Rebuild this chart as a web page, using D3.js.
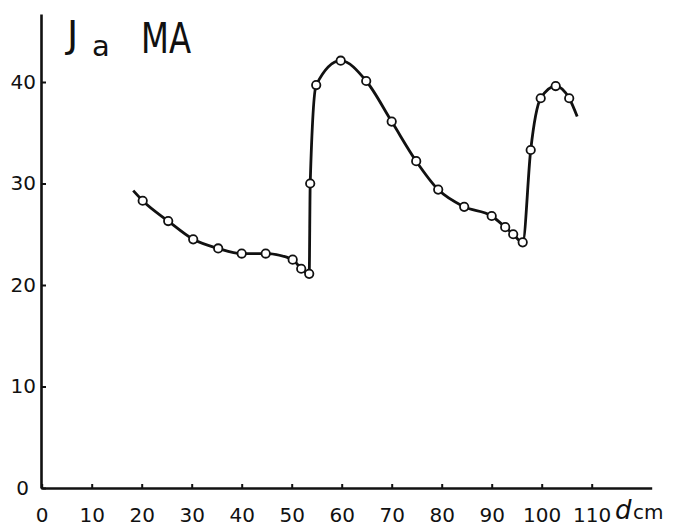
<!DOCTYPE html>
<html>
<head>
<meta charset="utf-8">
<script src="https://cdn.jsdelivr.net/npm/d3@7/dist/d3.min.js"></script>
<style>
  html, body { margin: 0; padding: 0; background: #fff; }
  svg { display: block; }
  text { font-family: "DejaVu Sans", sans-serif; fill: #111; }
</style>
</head>
<body>
<svg id="chart" width="676" height="527"></svg>
<script>
// Measured points (d in cm, Ja in mA)
const distance = [20.2, 25.3, 30.3, 35.3, 40.0, 44.8, 50.2, 51.9, 53.5, 53.7, 54.9, 59.8, 64.9, 70.0, 74.9, 79.3, 84.5, 90.0, 92.7, 94.3, 96.2, 97.8, 99.8, 102.8, 105.5];
const current  = [28.3, 26.3, 24.5, 23.6, 23.1, 23.1, 22.5, 21.6, 21.1, 30.0, 39.7, 42.1, 40.1, 36.1, 32.2, 29.4, 27.7, 26.8, 25.7, 25.0, 24.2, 33.3, 38.4, 39.6, 38.4];
// Curve ends without markers
const curveStart = [18.3, 29.3];
const curveEnd   = [107.1, 36.6];
const xTicks = [0, 10, 20, 30, 40, 50, 60, 70, 80, 90, 100, 110];
const yTicks = [0, 10, 20, 30, 40];

const svg = d3.select("#chart");
const x = d3.scaleLinear().domain([0, 122]).range([41.7, 651.7]);
const y = d3.scaleLinear().domain([0, 46.7]).range([488, 14]);

// X axis
const gx = svg.append("g").attr("transform", `translate(0,${y(0)})`)
  .call(d3.axisBottom(x).tickValues(xTicks).tickSizeInner(-4).tickSizeOuter(0).tickPadding(20).tickFormat(d3.format("d")));
gx.select(".domain").attr("stroke", "#111").attr("stroke-width", 2.6);
gx.selectAll(".tick line").attr("stroke", "#111").attr("stroke-width", 2);
gx.selectAll(".tick text").attr("font-size", 20).attr("font-family", "DejaVu Sans Condensed, DejaVu Sans").attr("fill", "#111");

// Y axis
const gy = svg.append("g").attr("transform", `translate(41,0)`)
  .call(d3.axisLeft(y).tickValues(yTicks).tickSizeInner(-5).tickSizeOuter(0).tickPadding(5).tickFormat(d3.format("d")));
gy.select(".domain").attr("stroke", "#111").attr("stroke-width", 2.6);
gy.selectAll(".tick line").attr("stroke", "#111").attr("stroke-width", 2);
gy.selectAll(".tick text").attr("font-size", 20).attr("font-family", "DejaVu Sans Condensed, DejaVu Sans").attr("fill", "#111")
  .attr("dx", d => d === 0 ? -7 : 0);

// Curve
const pts = [curveStart].concat(distance.map((d, i) => [d, current[i]])).concat([curveEnd]);
const line = d3.line().x(d => x(d[0])).y(d => y(d[1])).curve(d3.curveMonotoneX);
svg.append("path").attr("d", line(pts)).attr("fill", "none").attr("stroke", "#111").attr("stroke-width", 2.8);

// Markers
svg.append("g").selectAll("circle").data(distance).join("circle")
  .attr("cx", d => x(d)).attr("cy", (d, i) => y(current[i])).attr("r", 4.2)
  .attr("fill", "#fff").attr("stroke", "#111").attr("stroke-width", 1.8);

// Title
svg.append("text").attr("x", 67).attr("y", 47).attr("font-size", 38)
  .attr("font-family", "DejaVu Sans Mono, monospace").text("J");
svg.append("text").attr("x", 92).attr("y", 56).attr("font-size", 29).text("a");
svg.append("text").attr("x", 141).attr("y", 53).attr("font-size", 43)
  .attr("textLength", 50).attr("lengthAdjust", "spacingAndGlyphs").text("MA");

// X axis unit label
svg.append("text").attr("x", 615).attr("y", 519).attr("font-size", 26)
  .attr("font-family", "DejaVu Serif, serif").attr("font-style", "italic").text("d");
svg.append("text").attr("x", 633).attr("y", 519).attr("font-size", 20)
  .attr("font-family", "DejaVu Sans Condensed, DejaVu Sans").text("cm");
</script>
</body>
</html>
